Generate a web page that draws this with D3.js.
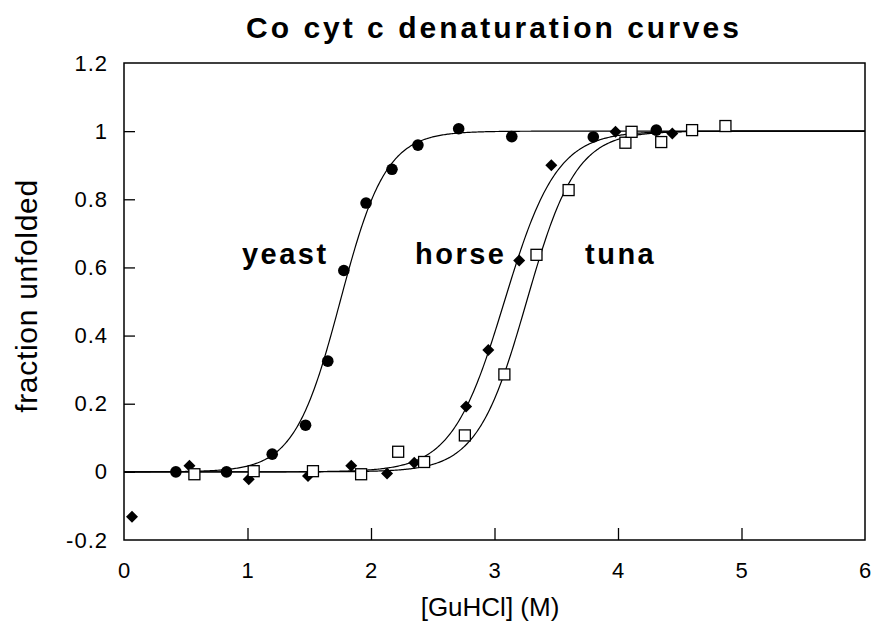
<!DOCTYPE html>
<html><head><meta charset="utf-8">
<script src="https://cdn.jsdelivr.net/npm/d3@7"></script>
<style>body{margin:0;background:#fff}</style></head>
<body><svg id="c" width="873" height="627"></svg>
<script>
const yeastX = [0.42,0.83,1.20,1.47,1.65,1.78,1.96,2.17,2.38,2.71,3.14,3.80,4.31];
const yeastY = [0.00,0.00,0.052,0.137,0.325,0.591,0.789,0.888,0.959,1.007,0.984,0.983,1.003];
const horseX = [0.065,0.53,1.01,1.49,1.84,2.13,2.35,2.77,2.95,3.20,3.46,3.98,4.44];
const horseY = [-0.132,0.018,-0.022,-0.012,0.018,-0.005,0.027,0.192,0.358,0.62,0.90,0.998,0.993];
const tunaX = [0.57,1.05,1.53,1.92,2.22,2.43,2.76,3.08,3.34,3.60,4.06,4.11,4.35,4.60,4.87];
const tunaY = [-0.007,0.002,0.002,-0.007,0.059,0.029,0.107,0.286,0.637,0.827,0.966,0.998,0.968,1.003,1.015];
const seriesNames = ["yeast","horse","tuna"];
const fitMidpoint = [1.75,3.08,3.26];
const fitWidth = [0.185,0.212,0.2];
const xTicks = [0,1,2,3,4,5,6];
const yTicks = [-0.2,0,0.2,0.4,0.6,0.8,1,1.2];
const yTickLabels = ["-0.2","0","0.2","0.4","0.6","0.8","1","1.2"];
const labelX = [0.955,2.356,3.733];
const labelY = [0.61,0.61,0.61];

const svg = d3.select("#c");
const L=124,R=865,T=63,B=540;
const x = d3.scaleLinear().domain([0,6]).range([L,R]);
const y = d3.scaleLinear().domain([-0.2,1.2]).range([B,T]);
const font = "'Liberation Sans', Arial, sans-serif";

svg.append("text").attr("x",494).attr("y",38).attr("text-anchor","middle")
  .attr("font-family",font).attr("font-weight","bold").attr("font-size",30)
  .attr("letter-spacing",3).text("Co cyt c denaturation curves");

svg.append("rect").attr("x",L).attr("y",T).attr("width",R-L).attr("height",B-T)
  .attr("fill","none").attr("stroke","#000").attr("stroke-width",1.5);

const xa = svg.append("g").attr("transform",`translate(0,${B})`)
  .call(d3.axisBottom(x).tickValues(xTicks).tickSize(-12).tickPadding(22).tickFormat(d3.format("d")));
const ya = svg.append("g").attr("transform",`translate(${L},0)`)
  .call(d3.axisLeft(y).tickValues(yTicks).tickSize(-11).tickPadding(16).tickFormat((d,i)=>yTickLabels[i]));
[xa,ya].forEach(a=>{
  a.select(".domain").remove();
  a.selectAll("line").attr("stroke","#000").attr("stroke-width",1.3);
  a.selectAll("text").attr("font-family",font).attr("font-size",22).attr("fill","#000").attr("letter-spacing",1);
});
xa.selectAll(".tick").filter(d=>d===0||d===6).select("line").remove();
ya.selectAll(".tick").filter(d=>d===-0.2||d===1.2).select("line").remove();

svg.append("text").attr("transform","translate(37,296) rotate(-90)").attr("text-anchor","middle")
  .attr("font-family",font).attr("font-size",30).attr("letter-spacing",0.7).text("fraction unfolded");
svg.append("text").attr("x",490).attr("y",616).attr("text-anchor","middle")
  .attr("font-family",font).attr("font-size",26).text("[GuHCl] (M)");

// fitted curves
const xs = d3.range(0,6.001,0.01);
fitMidpoint.forEach((m,i)=>{
  const line = d3.line().x(d=>x(d)).y(d=>y(1/(1+Math.exp(-(d-m)/fitWidth[i]))));
  svg.append("path").datum(xs).attr("d",line).attr("fill","none").attr("stroke","#000").attr("stroke-width",1.2);
});

// markers
const g = svg.append("g");
yeastX.forEach((v,i)=>g.append("circle").attr("cx",x(v)).attr("cy",y(yeastY[i])).attr("r",5.8).attr("fill","#000"));
const dm = 6;
horseX.forEach((v,i)=>g.append("path").attr("d",`M0,${-dm}L${dm},0L0,${dm}L${-dm},0Z`)
  .attr("transform",`translate(${x(v)},${y(horseY[i])})`).attr("fill","#000"));
tunaX.forEach((v,i)=>g.append("rect").attr("x",x(v)-5.5).attr("y",y(tunaY[i])-5.5).attr("width",11).attr("height",11)
  .attr("fill","#fff").attr("stroke","#000").attr("stroke-width",1.3));

seriesNames.forEach((n,i)=>svg.append("text").attr("x",x(labelX[i])).attr("y",y(labelY[i]))
  .attr("font-family",font).attr("font-weight","bold").attr("font-size",29)
  .attr("letter-spacing",2.5).text(n));
</script></body></html>
